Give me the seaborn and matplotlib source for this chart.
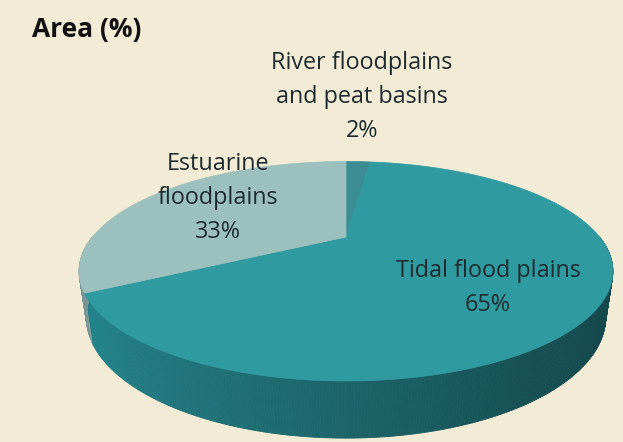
import numpy as np
import matplotlib
matplotlib.use("Agg")
import matplotlib.pyplot as plt
from matplotlib.patches import Polygon
import seaborn as sns

# Share of area by landform type (percent), clockwise from 12 o'clock
categories = ["River floodplains\nand peat basins", "Tidal flood plains", "Estuarine\nfloodplains"]
values = [2, 65, 33]
title = "Area (%)"

# Colours
background = "#F2ECD6"
top_colors = ["#3C8C94", "#2F9AA0", "#9CC0BD"]
side_colors = ["#2E747A", "#24838A", "#7F9C9C"]
text_color = "#1E2B30"

sns.set_theme(style="white")
plt.rcParams["font.family"] = ["Open Sans", "DejaVu Sans"]

W, H = 623, 442
fig = plt.figure(figsize=(W / 100, H / 100), dpi=100, facecolor=background)
ax = fig.add_axes([0, 0, 1, 1])
ax.set_facecolor(background)
ax.set_xlim(0, W)
ax.set_ylim(H, 0)
ax.axis("off")

# Perspective camera for a tilted disc (unit radius) with a thin cylinder wall
phi = np.deg2rad(23.0)
s, c = np.sin(phi), np.cos(phi)
dist = 2.95
focal = 748.0
depth_h = 0.19
cx, cy = 346.0, 237.0


def project(theta, z=0.0):
    x = np.sin(theta)
    y = np.cos(theta)
    d = dist + y * c - z * s
    px = cx + focal * x / d
    py = cy - focal * (y * s + z * c) / d
    return px, py


fractions = np.array(values, dtype=float) / np.sum(values)
bounds = np.concatenate([[0.0], np.cumsum(fractions)]) * 2 * np.pi


def shade(hex_color, factor):
    rgb = np.array(matplotlib.colors.to_rgb(hex_color))
    if factor >= 1:
        return tuple(rgb + (1 - rgb) * (factor - 1))
    return tuple(rgb * factor)


def wall_light(theta):
    # brightness of the cylinder wall: lit from front-left, darker to the right
    deg = np.rad2deg(theta) % 360
    pts = [90, 150, 200, 235, 270]
    lev = [0.50, 0.62, 0.86, 1.0, 0.92]
    return np.interp(deg, pts, lev)


# Cylinder wall, drawn in thin strips so the shading can vary along it
for i, (a0, a1) in enumerate(zip(bounds[:-1], bounds[1:])):
    lo = max(a0, np.pi / 2)
    hi = min(a1, 3 * np.pi / 2)
    if hi <= lo:
        continue
    n = max(2, int((hi - lo) / np.deg2rad(0.5)))
    th = np.linspace(lo, hi, n + 1)
    for t0, t1 in zip(th[:-1], th[1:]):
        p0 = project(t0); p1 = project(t1)
        q1 = project(t1, -depth_h); q0 = project(t0, -depth_h)
        col = shade(side_colors[i], wall_light(0.5 * (t0 + t1)))
        ax.add_patch(Polygon([p0, p1, q1, q0], closed=True, facecolor=col,
                             edgecolor=col, linewidth=0.6, zorder=2))

# Top face of each wedge
for i, (a0, a1) in enumerate(zip(bounds[:-1], bounds[1:])):
    th = np.linspace(a0, a1, max(4, int((a1 - a0) / np.deg2rad(0.5))))
    px, py = project(th)
    verts = [(cx, cy)] + list(zip(px, py))
    ax.add_patch(Polygon(verts, closed=True, facecolor=top_colors[i],
                         edgecolor=top_colors[i], linewidth=0.5, zorder=3))

# Labels
label_pos = [(362, 97), (488, 288), (218, 198)]
for i, (lab, v) in enumerate(zip(categories, values)):
    ax.text(label_pos[i][0], label_pos[i][1], f"{lab}\n{v}%", ha="center", va="center",
            fontsize=16.8, color=text_color, linespacing=1.55, zorder=5)

ax.text(32, 30, title, ha="left", va="center", fontsize=19, fontweight="bold",
        color="#111111", zorder=5)

fig.savefig("out.png", dpi=100, facecolor=background)
